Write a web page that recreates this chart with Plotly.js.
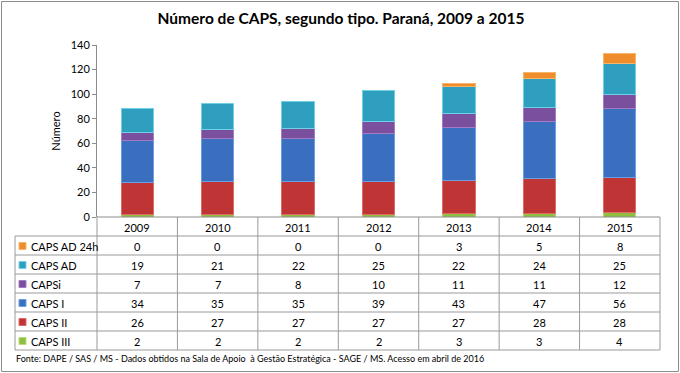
<!DOCTYPE html>
<html><head><meta charset="utf-8">
<script src="https://cdn.plot.ly/plotly-3.0.1.min.js"></script>
<style>html,body{margin:0;padding:0;background:#fff}#c{width:680px;height:373px}</style>
</head><body><div id="c"></div>
<script>
const years = ['2009','2010','2011','2012','2013','2014','2015'];
const seriesNames = ['CAPS III','CAPS II','CAPS I','CAPSi','CAPS AD','CAPS AD 24h'];
const capsIII = [2,2,2,2,3,3,4];
const capsII = [26,27,27,27,27,28,28];
const capsI = [34,35,35,39,43,47,56];
const capsi = [7,7,8,10,11,11,12];
const capsAD = [19,21,22,25,22,24,25];
const capsAD24 = [0,0,0,0,3,5,8];
const colors = ['#8fbf3f','#bf3535','#3a6fbf','#7a4f9e','#2e9fbf','#ef8c2c'];
const lineColors = ['#b8dc7a','#e06a66','#6d9fe3','#a47cc4','#6fd0e6','#f7b56a'];
const values = [capsIII,capsII,capsI,capsi,capsAD,capsAD24];

const W=680,H=373,L=97,R=660,T=45,B=217;
const pw=R-L, ph=B-T;
const px = x => (x-L)/pw;
const py = y => (B-y)/ph;
const cx = j => (j+0.5)/years.length;
const FONT = 'Lato, "Liberation Sans", sans-serif';

const traces = values.map((v,i)=>({
  type:'bar', x:years, y:v, name:seriesNames[i],
  marker:{color:colors[i], line:{color:lineColors[i], width:v.map(d=>d>0?1:0)}},
  width:0.4, hoverinfo:'skip'
}));

const shapes=[], ann=[];
const rowTop=236, rowH=19;
const nRows = seriesNames.length;
const tableBottom = rowTop + rowH*nRows;
const lineStyle={color:'#9a9a9a',width:1};
shapes.push({type:'line',xref:'paper',yref:'paper',x0:0,x1:1,y0:0,y1:0,line:{color:'#8c8c8c',width:1}});
for(let r=0;r<=nRows;r++){
  const y=rowTop+r*rowH;
  shapes.push({type:'line',xref:'paper',yref:'paper',x0:px(15),x1:1,y0:py(y),y1:py(y),line:lineStyle});
}
shapes.push({type:'line',xref:'paper',yref:'paper',x0:px(15),x1:px(15),y0:py(rowTop),y1:py(tableBottom),line:lineStyle});
for(let j=0;j<=years.length;j++){
  const x=j/years.length;
  shapes.push({type:'line',xref:'paper',yref:'paper',x0:x,x1:x,y0:0,y1:py(tableBottom),line:lineStyle});
}
years.forEach((yr,j)=>{
  ann.push({xref:'paper',yref:'paper',x:cx(j),y:py(B+rowH/2+0.5),xanchor:'center',yanchor:'middle',text:yr,showarrow:false,font:{family:FONT,size:11,color:'#000'}});
});
for(let r=0;r<nRows;r++){
  const si = nRows-1-r;
  const yc = rowTop + r*rowH + rowH/2 + 0.5;
  shapes.push({type:'rect',xref:'paper',yref:'paper',x0:px(19),x1:px(26),y0:py(yc+3.5),y1:py(yc-3.5),fillcolor:colors[si],line:{color:lineColors[si],width:1}});
  ann.push({xref:'paper',yref:'paper',x:px(29),y:py(yc),xanchor:'left',yanchor:'middle',text:seriesNames[si],showarrow:false,font:{family:FONT,size:11,color:'#000'}});
  values[si].forEach((v,j)=>{
    ann.push({xref:'paper',yref:'paper',x:cx(j),y:py(yc),xanchor:'center',yanchor:'middle',text:String(v),showarrow:false,font:{family:FONT,size:11,color:'#000'}});
  });
}
ann.push({xref:'paper',yref:'paper',x:px(14),y:py(358),xanchor:'left',yanchor:'middle',text:'Fonte: DAPE / SAS / MS - Dados obtidos na Sala de Apoio  à Gestão Estratégica - SAGE / MS. Acesso em abril de 2016',showarrow:false,font:{family:FONT,size:9,color:'#000'}});
shapes.push({type:'rect',xref:'paper',yref:'paper',x0:px(1.5),x1:px(678.5),y0:py(1.5),y1:py(371.5),line:{color:'#8c8c8c',width:1}});

const layout={
  width:W,height:H,
  margin:{l:L,r:W-R,t:T,b:H-B,pad:0},
  paper_bgcolor:'#fff',plot_bgcolor:'#fff',
  showlegend:false,barmode:'stack',
  title:{text:'<b>Número de CAPS, segundo tipo. Paraná, 2009 a 2015</b>',x:341/W,xref:'container',xanchor:'center',y:1-19/H,yanchor:'middle',font:{family:FONT,size:15.5,color:'#000'}},
  xaxis:{type:'category',range:[-0.5,6.5],showticklabels:false,ticks:'',showgrid:false,zeroline:false,showline:false,fixedrange:true},
  yaxis:{range:[0,140],dtick:20,showgrid:false,zeroline:false,showline:true,linecolor:'#8c8c8c',linewidth:1,ticks:'outside',ticklen:4,tickcolor:'#8c8c8c',
    tickfont:{family:FONT,size:11,color:'#000'},
    title:{text:'Número',font:{family:FONT,size:11,color:'#000'},standoff:7}},
  shapes:shapes,annotations:ann
};
Plotly.newPlot('c',traces,layout,{staticPlot:true,displayModeBar:false});
</script></body></html>
